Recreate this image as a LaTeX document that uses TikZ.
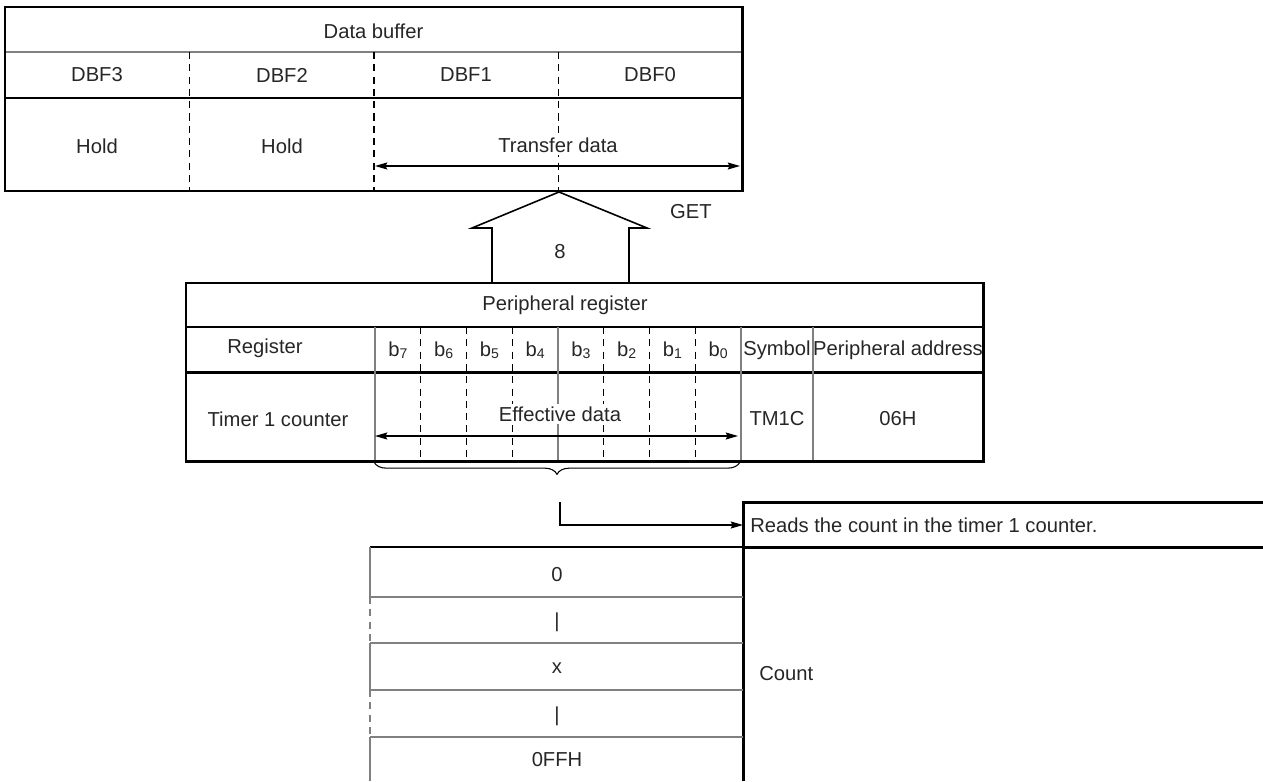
\documentclass[tikz,border=0pt]{standalone}
\usepackage{fontspec}
\setmainfont{Liberation Sans}
\usetikzlibrary{arrows.meta,decorations.pathreplacing}
\tikzset{
  thickline/.style={line width=1.7pt},
  thinline/.style={line width=0.6pt},
  grayline/.style={line width=0.6pt,draw=black!50},
  dashline/.style={line width=0.6pt,dash pattern=on 4pt off 3pt},
  lbl/.style={inner sep=0pt,text=black!85,font=\fontsize{11.5}{13}\selectfont},
  masked/.style={lbl,fill=white,inner sep=1.5pt},
  dataarrow/.style={line width=0.7pt,{Stealth[length=7pt,width=4pt,inset=1pt]}-{Stealth[length=7pt,width=4pt,inset=1pt]}},
}
\newcommand{\bitlbl}[1]{b\raisebox{-0.2ex}{\fontsize{8}{9}\selectfont #1}}
\begin{document}
\begin{tikzpicture}[x=0.02cm,y=-0.02cm]
\useasboundingbox (0,0) rectangle (1263,781);
% data buffer
\draw[grayline] (5,52) -- (742,52);
\draw[thickline] (5,98) -- (742,98);
\foreach \x in {189.5,374,558.5} \draw[dashline] (\x,52) -- (\x,191);
\draw[thickline] (5,7) rectangle (742,191);
\node[lbl] (dbuf) at (373.5,31) {Data buffer};
\foreach \n/\x in {3/97,2/282,1/466,0/650} \node[lbl] (dbf\n) at (\x,75) {DBF\n};
\node[lbl] (hold3) at (97,146) {Hold};
\node[lbl] (hold2) at (282,146) {Hold};
\node[masked] (xfer) at (558,145) {Transfer data};
\coordinate (xferL) at (375,166);
\coordinate (xferR) at (740,166);
\draw[dataarrow] (xferL) -- (xferR);
% GET path
\draw[line width=0.9pt] (492,283) -- (492,228) -- (472,228) -- (559,192) -- (647,228) -- (629,228) -- (629,283);
\node[lbl] (width) at (560,252) {8};
\node[lbl] (get) at (691,212) {GET};
% peripheral register
\draw[thinline] (186,327) -- (983,327);
\draw[thickline] (186,372) -- (983,372);
\foreach \i in {1,2,3,5,6,7} \draw[dashline] ({375+\i*45.75},327) -- ({375+\i*45.75},461);
\foreach \x in {375,558,741,813} \draw[grayline] (\x,327) -- (\x,461);
\draw[thickline] (186,283) rectangle (983,461);
\node[lbl] (preg) at (565,305) {Peripheral register};
\node[lbl] (regh) at (265,348) {Register};
\foreach \i in {0,...,7} \node[lbl] (b\i) at ({375+(7.5-\i)*45.75},350) {\bitlbl{\i}};
\node[lbl] (symh) at (777,350) {Symbol};
\node[lbl] (addrh) at (898,350) {Peripheral address};
\node[lbl] (tmr) at (278,419) {Timer 1 counter};
\node[masked] (eff) at (560,414) {Effective data};
\node[lbl] (sym) at (777,419) {TM1C};
\node[lbl] (addr) at (898,419) {06H};
\coordinate (effL) at (375,436);
\coordinate (effR) at (738,436);
\draw[dataarrow] (effL) -- (effR);
\draw[thinline,decorate,decoration={brace,mirror,amplitude=7pt}] (374,462) -- (740,462);
% read path
\coordinate (tap) at (560,502);
\coordinate (readin) at (743,525);
\draw[line width=0.7pt,-{Stealth[length=7pt,width=4pt,inset=1pt]}] (tap) |- (readin);
\draw[thickline] (743,781) -- (743,502) -- (1263,502);
\draw[thickline] (743,547) -- (1263,547);
\node[lbl,anchor=west] (reads) at (750,525) {Reads the count in the timer 1 counter.};
\node[lbl,anchor=west] (count) at (759,674) {Count};
% count values
\draw[thinline] (370,547) -- (743,547);
\foreach \y in {597,643,690,737} \draw[grayline] (370,\y) -- (743,\y);
\draw[grayline] (370,547) -- (370,597) (370,643) -- (370,690) (370,737) -- (370,781);
\draw[dashline,draw=black!50] (370,597) -- (370,643) (370,690) -- (370,737);
\foreach \t/\y/\v in {v0/575/0,v1/622/|,v2/668/x,v3/716/|,v4/760/0FFH} \node[lbl] (\t) at (557,\y) {\v};
\end{tikzpicture}
\end{document}
